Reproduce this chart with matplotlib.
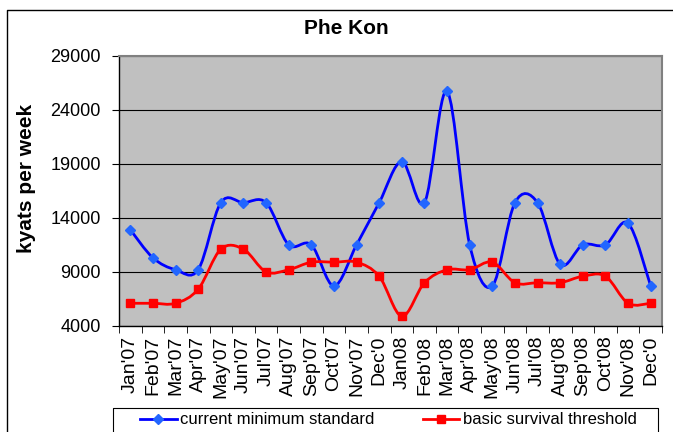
import numpy as np
import matplotlib
matplotlib.use("Agg")
import matplotlib.pyplot as plt
from matplotlib.path import Path
from matplotlib.patches import PathPatch
from matplotlib.lines import Line2D

plt.rcParams['font.family'] = ['Liberation Sans', 'DejaVu Sans']

months = ["Jan'07", "Feb'07", "Mar'07", "Apr'07", "May'07", "Jun'07", "Jul'07",
          "Aug'07", "Sep'07", "Oct'07", "Nov'07", "Dec'0", "Jan08", "Feb'08",
          "Mar'08", "Apr'08", "May'08", "Jun'08", "Jul'08", "Aug'08", "Sep'08",
          "Oct'08", "Nov'08", "Dec'0"]
current_min = [12900, 10300, 9200, 9200, 15400, 15400, 15400, 11500, 11500, 7700,
               11500, 15400, 19200, 15400, 25700, 11500, 7700, 15400, 15400, 9700,
               11500, 11500, 13500, 7700]
survival = [6100, 6100, 6100, 7400, 11100, 11100, 9000, 9200, 9900, 9900, 9900,
            8600, 4900, 8000, 9200, 9200, 9900, 8000, 8000, 8000, 8600, 8600,
            6100, 6100]
series_names = ["current minimum standard", "basic survival threshold"]
yticks = [4000, 9000, 14000, 19000, 24000, 29000]


def smooth_path(x, y):
    # excel style smoothed line: cubic bezier, control points at 1/6 of neighbour span
    pts = np.column_stack([x, y]).astype(float)
    n = len(pts)
    verts = [pts[0]]
    codes = [Path.MOVETO]
    for i in range(n - 1):
        p0 = pts[i - 1] if i > 0 else pts[i]
        p1 = pts[i]
        p2 = pts[i + 1]
        p3 = pts[i + 2] if i + 2 < n else pts[i + 1]
        c1 = p1 + (p2 - p0) / 6.0
        c2 = p2 - (p3 - p1) / 6.0
        verts += [c1, c2, p2]
        codes += [Path.CURVE4] * 3
    return Path(verts, codes)


fig = plt.figure(figsize=(6.73, 4.32), dpi=100)
W, H = 673, 432
ax = fig.add_axes([119 / W, 1 - 326 / H, (662 - 119) / W, (326 - 55.5) / H])
ax.set_facecolor('#C0C0C0')

x = np.arange(len(months))
styles = [dict(color='#0000FF', marker='D', ms=5, mfc='#2266FF', mec='#2266FF'),
          dict(color='#FF0000', marker='s', ms=5.5, mfc='#FF0000', mec='#FF0000')]
handles = []
for vals, st, name in zip([current_min, survival], styles, series_names):
    ax.add_patch(PathPatch(smooth_path(x, vals), facecolor='none',
                           edgecolor=st['color'], lw=2, zorder=3))
    ax.plot(x, vals, ls='none', marker=st['marker'], ms=st['ms'],
            mfc=st['mfc'], mec=st['mec'], zorder=4)
    handles.append(Line2D([], [], color=st['color'], lw=2, marker=st['marker'],
                          ms=st['ms'], mfc=st['mfc'], mec=st['mec']))

ax.set_xlim(-0.5, len(months) - 0.5)
ax.set_ylim(4000, 29000)
ax.set_yticks(yticks)
ax.set_yticklabels([str(v) for v in yticks], fontsize=13)
ax.yaxis.grid(True, color='black', lw=0.8)
ax.set_axisbelow(True)

ax.set_xticks(x)
ax.set_xticklabels(months, rotation=90, fontsize=14)
ax.set_xticks(np.arange(-0.5, len(months), 1), minor=True)
ax.tick_params(axis='x', which='major', length=0, pad=7)
ax.tick_params(axis='x', which='minor', length=5, direction='out', color='black')
ax.tick_params(axis='y', length=5, direction='out', pad=8, color='black')

for side in ['top', 'right']:
    ax.spines[side].set_color('#808080')
    ax.spines[side].set_linewidth(1.5)
for side in ['left', 'bottom']:
    ax.spines[side].set_color('black')
    ax.spines[side].set_linewidth(1)

fig.text(346 / W, 1 - 29 / H, "Phe Kon", fontsize=15, fontweight='bold',
         ha='center', va='center')
fig.text(27 / W, 1 - 178 / H, "kyats per week", fontsize=15, fontweight='bold',
         rotation=90, ha='center', va='center')

fig.legend(handles, series_names, loc='center left',
           bbox_to_anchor=(140 / W, 1 - 420 / H), ncol=2, frameon=False,
           fontsize=12, borderpad=0, borderaxespad=0, handlelength=2.2,
           handletextpad=0.2, columnspacing=2.9)

# chart area border and legend box
fig.add_artist(Line2D([7 / W, 7 / W, 1], [0, 1 - 10 / H, 1 - 10 / H],
                      color='black', lw=1, transform=fig.transFigure))
fig.add_artist(Line2D([113 / W, 113 / W, 658 / W, 658 / W],
                      [0, 1 - 408 / H, 1 - 408 / H, 0],
                      color='black', lw=0.8, transform=fig.transFigure))

fig.savefig('out.png', dpi=100)
